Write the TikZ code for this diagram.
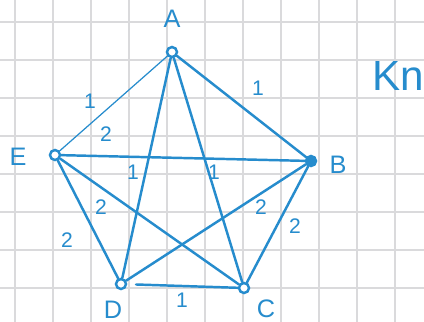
\documentclass[tikz,border=0pt]{standalone}
\usepackage{fontspec}
\setmainfont{Liberation Sans}
\usepackage{xcolor}
\usetikzlibrary{positioning}

\definecolor{penblue}{RGB}{38,140,205}
\definecolor{gridgray}{RGB}{218,218,220}

\begin{document}
\begin{tikzpicture}[
    x=0.02cm, y=-0.02cm,
    vert/.style={circle, draw=penblue, line width=1.4pt, fill=white,
                 minimum size=0.2cm, inner sep=0pt},
    vertfull/.style={vert, fill=penblue},
    vlab/.style={text=penblue, font=\Large},
    wt/.style={text=penblue, font=\large},
    edge/.style={draw=penblue, line width=1.4pt, line cap=round},
    thin edge/.style={draw=penblue, line width=0.7pt, line cap=round}
  ]
    \useasboundingbox (0,0) rectangle (424,322);
    \fill[white] (0,0) rectangle (424,322);

    %% ── Grid paper
    \begin{scope}
      \clip (0,0) rectangle (424,322);
      \foreach \gx in {15,53,...,433}
        \draw[gridgray, line width=1pt] (\gx,0) -- (\gx,322);
      \foreach \gy in {22,60,...,326}
        \draw[gridgray, line width=1pt] (0,\gy) -- (424,\gy);
    \end{scope}

    %% ── Vertices
    \node[vert]     (A) at (172, 52)  {};
    \node[vertfull] (B) at (311,161)  {};
    \node[vert]     (C) at (244,288)  {};
    \node[vert]     (D) at (121,284)  {};
    \node[vert]     (E) at (55, 155)  {};

    %% Vertex names
    \node[vlab] (lA) at (172, 19) {A};
    \node[vlab] (lB) at (338,165) {B};
    \node[vlab] (lC) at (266,309) {C};
    \node[vlab] (lD) at (113,310) {D};
    \node[vlab] (lE) at (18, 157) {E};

    %% ── Edges
    \draw[edge] (A) -- (B);
    \draw[thin edge] (A) -- (E);
    \draw[edge] (A) -- (D);
    \draw[edge] (A) -- (C);
    \draw[edge] (E) -- (B);
    \draw[edge] (E) -- (D);
    \draw[edge] (E) -- (C);
    \draw[edge] (D) -- (B);
    \draw[edge] (B) -- (C);
    \draw[edge, shorten <=5pt] (D) -- (C);

    %% ── Weights
    \node[wt] (wAB) at (258, 88)  {1};
    \node[wt] (wAE) at (90, 101)  {1};
    \node[wt] (wEB) at (106,134)  {2};
    \node[wt] (wAD) at (133,172)  {1};
    \node[wt] (wAC) at (214,172)  {1};
    \node[wt] (wEC) at (101,207)  {2};
    \node[wt] (wDB) at (261,207)  {2};
    \node[wt] (wBC) at (295,226)  {2};
    \node[wt] (wED) at (67, 240)  {2};
    \node[wt] (wDC) at (182,300)  {1};

    %% Title
    \node[text=penblue, font=\fontsize{24}{26}\selectfont] (Kn) at (398,76) {Kn};

  \end{tikzpicture}
\end{document}
